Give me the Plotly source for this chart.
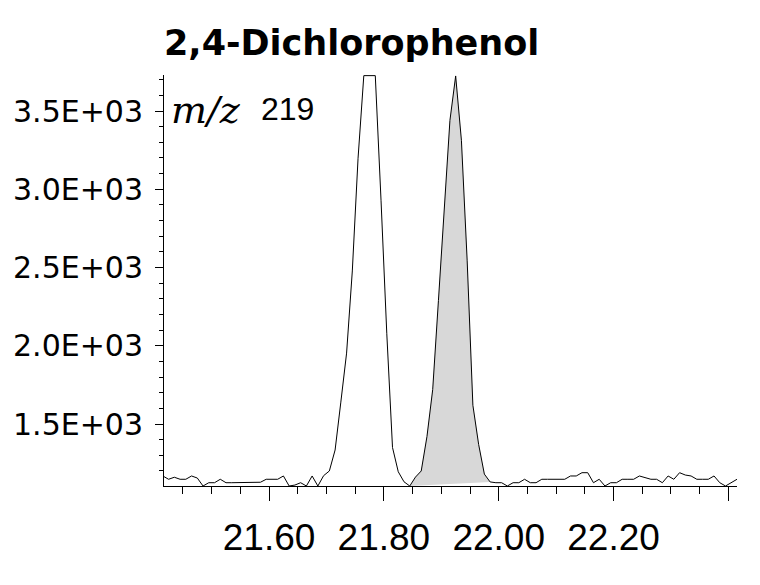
import plotly.graph_objects as go

# Retention time (min) and abundance
rt = [21.415, 21.425, 21.435, 21.445, 21.455, 21.465, 21.475, 21.485, 21.495, 21.505,
      21.515, 21.525, 21.535, 21.545, 21.555, 21.565, 21.575, 21.585, 21.595, 21.605,
      21.615, 21.625, 21.635, 21.645, 21.655, 21.665, 21.675, 21.685, 21.695, 21.705,
      21.715, 21.725, 21.735, 21.745, 21.755, 21.765, 21.775, 21.785, 21.795, 21.805,
      21.815, 21.825, 21.835, 21.845, 21.855, 21.865, 21.875, 21.885, 21.895, 21.905,
      21.915, 21.925, 21.935, 21.945, 21.955, 21.965, 21.975, 21.985, 21.995, 22.005,
      22.015, 22.025, 22.035, 22.045, 22.055, 22.065, 22.075, 22.085, 22.095, 22.105,
      22.115, 22.125, 22.135, 22.145, 22.155, 22.165, 22.175, 22.185, 22.195, 22.205,
      22.215, 22.225, 22.235, 22.245, 22.255, 22.265, 22.275, 22.285, 22.295, 22.305,
      22.315, 22.325, 22.335, 22.345, 22.355, 22.365, 22.375, 22.385, 22.395, 22.405,
      22.415]

abundance = [1168, 1147, 1160, 1147, 1147, 1168, 1155, 1104, 1125, 1125,
             1147, 1125, 1125, 1125, 1125, 1125, 1125, 1128, 1147, 1147,
             1147, 1168, 1104, 1110, 1125, 1104, 1168, 1104, 1170, 1200,
             1334, 1640, 1953, 2478, 3198, 3726, 3726, 3726, 2930, 2080,
             1350, 1195, 1131, 1104, 1161, 1200, 1420, 1720, 2290, 2830,
             3440, 3724, 3313, 2547, 1620, 1370, 1180, 1130, 1125, 1125,
             1104, 1125, 1125, 1147, 1125, 1125, 1147, 1147, 1147, 1147,
             1147, 1168, 1168, 1189, 1189, 1125, 1147, 1104, 1125, 1125,
             1147, 1147, 1147, 1168, 1157, 1147, 1147, 1125, 1168, 1147,
             1189, 1174, 1168, 1147, 1147, 1147, 1168, 1125, 1104, 1125,
             1147]

# integrated (shaded) peak: index range of the target compound
peak_start, peak_end = 43, 57

x_tickvals = [21.6, 21.8, 22.0, 22.2, 22.4]
x_ticktext = ["21.60", "21.80", "22.00", "22.20", ""]
y_tickvals = [1500, 2000, 2500, 3000, 3500]
y_ticktext = ["1.5E+03", "2.0E+03", "2.5E+03", "3.0E+03", "3.5E+03"]

title_text = "2,4-Dichlorophenol"
ion_label = "m/z"
ion_mass = "219"

fig = go.Figure()

# shaded peak area (closed to a straight baseline)
fig.add_trace(go.Scatter(
    x=rt[peak_start:peak_end + 1], y=abundance[peak_start:peak_end + 1],
    mode="lines", fill="toself", fillcolor="rgb(216,216,216)",
    line=dict(width=0, color="rgba(0,0,0,0)"), hoverinfo="skip", showlegend=False))

# chromatogram trace
fig.add_trace(go.Scatter(
    x=rt, y=abundance, mode="lines",
    line=dict(color="black", width=1), showlegend=False))

# the page body adds an 8px offset, so the figure is 752x577
fig.update_layout(
    template="none",
    width=752, height=577,
    margin=dict(l=156, r=23, t=67, b=99, autoexpand=False),
    paper_bgcolor="white", plot_bgcolor="white",
    showlegend=False,
)

fig.update_xaxes(
    automargin=False,
    range=[21.417, 22.415],
    tickmode="array", tickvals=x_tickvals, ticktext=x_ticktext,
    ticks="outside", ticklen=14, tickwidth=1, tickcolor="black",
    showline=True, linecolor="black", linewidth=1,
    showgrid=False, zeroline=False,
    minor=dict(tickmode="linear", tick0=21.6, dtick=0.05, ticks="outside",
               ticklen=7, tickwidth=1, tickcolor="black", showgrid=False),
    tickfont=dict(family="Liberation Sans", size=37, color="black"),
    ticklabelstandoff=5,
)

fig.update_yaxes(
    automargin=False,
    range=[1104, 3730],
    tickmode="array", tickvals=y_tickvals, ticktext=y_ticktext,
    ticks="outside", ticklen=8, tickwidth=1, tickcolor="black",
    showline=True, linecolor="black", linewidth=1,
    showgrid=False, zeroline=False,
    minor=dict(tickmode="linear", tick0=0, dtick=100, ticks="outside",
               ticklen=4, tickwidth=1, tickcolor="black", showgrid=False),
    tickfont=dict(family="DejaVu Sans", size=30, color="black"),
    ticklabelstandoff=6,
)

fig.add_annotation(
    text="<b>" + title_text + "</b>", xref="paper", yref="paper",
    x=-0.004, y=1.078, xanchor="left", yanchor="middle", showarrow=False,
    font=dict(family="DejaVu Sans", size=35, color="black"))

fig.add_annotation(
    text="<i>" + ion_label + "</i>", xref="paper", yref="paper",
    x=0.008, y=0.915, xanchor="left", yanchor="middle", showarrow=False,
    font=dict(family="DejaVu Serif", size=38, color="black"))

fig.add_annotation(
    text=ion_mass, xref="paper", yref="paper",
    x=0.166, y=0.917, xanchor="left", yanchor="middle", showarrow=False,
    font=dict(family="Liberation Sans", size=32, color="black"))

fig.write_html("out.html")
